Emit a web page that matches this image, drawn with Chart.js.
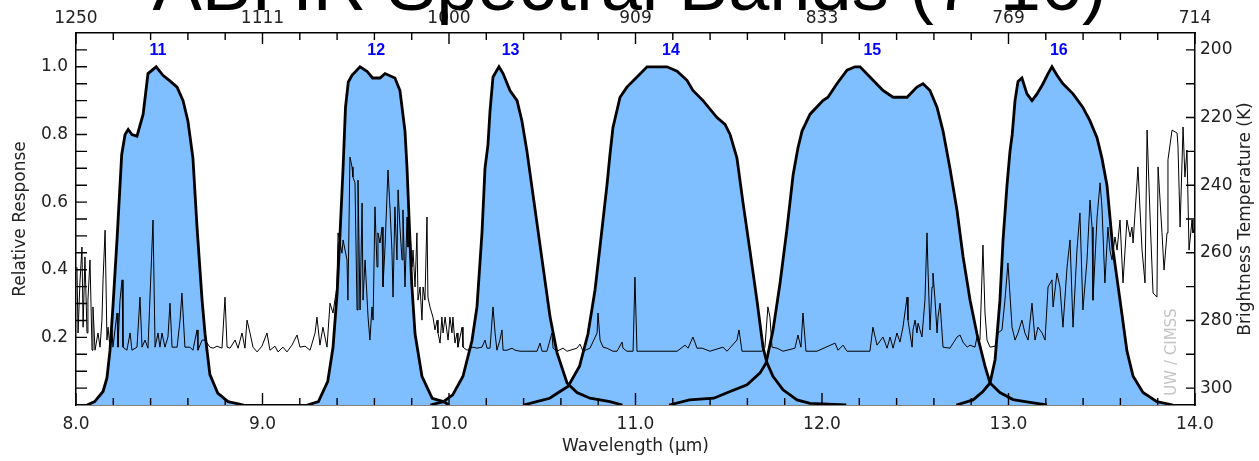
<!DOCTYPE html>
<html>
<head>
<meta charset="utf-8">
<title>ABI IR Spectral Bands (7-16)</title>
<script src="https://cdn.jsdelivr.net/npm/chart.js@4/dist/chart.umd.min.js"></script>
<style>
  html, body { margin: 0; padding: 0; background: #fff; }
  #wrap { width: 1259px; height: 461px; position: relative; }
</style>
</head>
<body>
<div id="wrap"><canvas id="chart"></canvas></div>
<script>
const chartTitle = 'ABI IR Spectral Bands (7-16)';
const bandNames = ['11', '12', '13', '14', '15', '16'];
const bandCenters = [8.44, 9.61, 10.33, 11.19, 12.27, 13.27];
const wavelengthTicks = [8, 9, 10, 11, 12, 13, 14];
const wavenumberTicks = ['1250', '1111', '1000', '909', '833', '769', '714'];
const responseTicks = [0.2, 0.4, 0.6, 0.8, 1.0];
const temperatureTicks = [200, 220, 240, 260, 280, 300];

// relative response curves, [wavelength um, response]
const band11 = [[8.06,0],[8.10,0.01],[8.145,0.04],[8.166,0.08],[8.182,0.16],[8.198,0.29],[8.22,0.49],[8.245,0.74],
  [8.263,0.80],[8.28,0.815],[8.30,0.80],[8.327,0.795],[8.36,0.86],[8.386,0.98],[8.43,1.0],[8.466,0.975],[8.50,0.96],
  [8.542,0.94],[8.574,0.90],[8.60,0.84],[8.627,0.73],[8.649,0.525],[8.676,0.31],[8.692,0.21],[8.718,0.09],
  [8.76,0.035],[8.815,0.01],[8.90,0]];
const band12 = [[9.24,0],[9.30,0.01],[9.35,0.07],[9.378,0.17],[9.40,0.33],[9.416,0.51],[9.432,0.70],[9.445,0.88],
  [9.46,0.955],[9.48,0.975],[9.523,1.0],[9.56,0.987],[9.59,0.967],[9.63,0.967],[9.657,0.98],[9.71,0.967],[9.737,0.93],
  [9.764,0.81],[9.775,0.70],[9.80,0.36],[9.818,0.21],[9.855,0.085],[9.91,0.02],[9.97,0.01],[10.0,0]];
const band13 = [[9.90,0],[9.97,0.01],[10.02,0.03],[10.075,0.085],[10.123,0.19],[10.15,0.29],[10.177,0.51],[10.193,0.70],
  [10.209,0.77],[10.22,0.87],[10.236,0.97],[10.257,0.99],[10.268,1.0],[10.29,0.98],[10.327,0.93],[10.365,0.90],
  [10.391,0.84],[10.418,0.75],[10.461,0.58],[10.504,0.41],[10.542,0.26],[10.579,0.155],[10.633,0.065],[10.686,0.037],
  [10.756,0.02],[10.863,0.01],[10.93,0]];
const band14 = [[10.40,0],[10.47,0.01],[10.54,0.02],[10.595,0.04],[10.638,0.055],[10.70,0.115],[10.745,0.21],[10.783,0.34],
  [10.81,0.47],[10.847,0.65],[10.863,0.74],[10.879,0.82],[10.917,0.91],[10.954,0.94],[11.008,0.97],[11.062,1.0],
  [11.169,1.0],[11.223,0.987],[11.276,0.96],[11.308,0.93],[11.362,0.90],[11.437,0.85],[11.48,0.83],[11.507,0.80],
  [11.544,0.73],[11.576,0.60],[11.614,0.455],[11.651,0.31],[11.684,0.17],[11.705,0.125],[11.737,0.085],[11.791,0.045],
  [11.866,0.015],[11.936,0.005],[12.13,0]];
const band15 = [[11.18,0],[11.29,0.015],[11.42,0.02],[11.507,0.04],[11.598,0.06],[11.668,0.095],[11.70,0.124],[11.737,0.22],
  [11.775,0.36],[11.812,0.52],[11.845,0.68],[11.871,0.76],[11.893,0.81],[11.936,0.86],[12.005,0.90],[12.032,0.91],
  [12.08,0.95],[12.134,0.99],[12.177,1.0],[12.204,1.0],[12.257,0.97],[12.327,0.93],[12.381,0.91],[12.456,0.91],
  [12.509,0.94],[12.542,0.95],[12.579,0.93],[12.617,0.88],[12.649,0.81],[12.686,0.70],[12.724,0.575],[12.756,0.44],
  [12.794,0.31],[12.831,0.21],[12.874,0.115],[12.901,0.065],[12.954,0.037],[13.024,0.016],[13.115,0.008],[13.206,0]];
const band16 = [[12.72,0],[12.81,0.015],[12.863,0.04],[12.901,0.065],[12.928,0.134],[12.954,0.31],[12.971,0.49],[12.992,0.65],
  [13.008,0.75],[13.02,0.80],[13.035,0.90],[13.051,0.957],[13.072,0.967],[13.099,0.92],[13.126,0.90],[13.153,0.92],
  [13.185,0.95],[13.212,0.98],[13.233,1.0],[13.26,0.975],[13.292,0.95],[13.346,0.92],[13.399,0.88],[13.437,0.84],
  [13.475,0.79],[13.501,0.73],[13.528,0.65],[13.56,0.46],[13.598,0.31],[13.635,0.16],[13.668,0.085],[13.721,0.037],
  [13.796,0.01],[13.882,0]];

// brightness temperature spectrum, [wavelength um, K]
const spectrum = [
  [8.005,264.2],[8.011,283.7],[8.021,268.9],[8.032,258.3],[8.038,282.0],[8.048,261.2],[8.059,283.7],[8.064,274.0],
  [8.075,262.1],[8.086,288.8],[8.091,276.0],[8.102,288.8],[8.118,283.7],[8.129,287.9],[8.139,279.9],[8.145,268.0],
  [8.156,253.3],[8.166,285.8],[8.172,282.0],[8.182,287.9],[8.193,282.8],[8.198,287.9],[8.220,277.8],[8.225,287.9],
  [8.236,274.0],[8.247,268.0],[8.252,287.9],[8.273,288.8],[8.290,283.7],[8.300,288.8],[8.327,287.9],[8.343,273.1],
  [8.354,287.9],[8.370,285.8],[8.386,288.2],[8.413,250.3],[8.424,287.9],[8.440,283.7],[8.450,287.9],[8.461,283.7],
  [8.477,287.9],[8.493,284.9],[8.504,274.9],[8.515,287.9],[8.542,287.9],[8.558,279.9],[8.568,271.9],[8.574,277.8],
  [8.584,287.9],[8.611,287.9],[8.627,288.8],[8.649,282.8],[8.654,288.8],[8.676,285.8],[8.692,285.8],[8.718,287.9],
  [8.735,288.2],[8.756,287.6],[8.783,288.2],[8.799,273.1],[8.810,287.9],[8.826,288.2],[8.853,285.8],[8.869,288.2],
  [8.890,283.7],[8.906,288.2],[8.917,279.9],[8.933,283.7],[8.949,287.9],[8.971,289.3],[8.997,287.6],[9.024,283.7],
  [9.040,288.8],[9.067,287.6],[9.083,289.3],[9.110,287.9],[9.131,289.3],[9.158,287.3],[9.185,284.3],[9.201,287.9],
  [9.228,287.6],[9.255,288.8],[9.282,283.7],[9.292,279.0],[9.308,287.3],[9.324,282.0],[9.346,287.9],[9.362,274.9],
  [9.378,277.8],[9.399,270.1],[9.405,254.1],[9.426,260.1],[9.432,256.2],[9.453,262.1],[9.458,274.0],[9.469,231.7],
  [9.480,234.6],[9.485,237.6],[9.496,239.3],[9.507,276.9],[9.512,238.5],[9.523,276.9],[9.534,245.3],[9.539,274.0],
  [9.550,262.1],[9.566,279.0],[9.576,285.8],[9.587,276.0],[9.593,279.9],[9.603,246.4],[9.614,264.2],[9.619,254.1],
  [9.630,257.1],[9.641,252.4],[9.646,270.1],[9.657,258.3],[9.673,235.5],[9.684,247.3],[9.694,259.2],[9.700,273.1],
  [9.710,246.4],[9.721,262.1],[9.727,241.4],[9.737,252.4],[9.748,262.1],[9.753,247.3],[9.764,270.1],[9.775,249.4],
  [9.780,258.3],[9.791,253.3],[9.802,264.2],[9.807,259.2],[9.818,270.1],[9.828,254.1],[9.834,274.0],[9.845,270.1],
  [9.855,279.9],[9.861,270.1],[9.871,274.0],[9.882,249.4],[9.887,273.1],[9.898,276.0],[9.914,279.0],[9.925,282.8],
  [9.936,279.9],[9.941,283.7],[9.952,286.7],[9.962,279.0],[9.968,283.7],[9.979,279.0],[9.995,285.8],[10.005,279.0],
  [10.016,283.7],[10.021,279.0],[10.032,286.7],[10.043,283.7],[10.048,287.9],[10.070,282.0],[10.075,287.9],[10.097,288.8],
  [10.113,288.2],[10.129,287.9],[10.150,288.2],[10.177,287.9],[10.193,285.8],[10.204,288.2],[10.220,288.2],[10.236,276.0],
  [10.247,283.7],[10.257,288.8],[10.273,285.8],[10.284,282.8],[10.290,288.8],[10.311,288.8],[10.338,288.2],[10.354,288.8],
  [10.381,289.1],[10.472,289.1],[10.488,286.7],[10.499,289.1],[10.525,289.1],[10.552,283.7],[10.558,288.2],[10.579,289.1],
  [10.611,288.2],[10.633,289.1],[10.686,288.2],[10.702,287.0],[10.719,289.1],[10.756,288.2],[10.794,283.7],[10.799,277.8],
  [10.810,285.8],[10.826,287.9],[10.847,288.2],[10.879,289.1],[10.901,289.1],[10.928,286.4],[10.933,288.2],[10.954,289.1],
  [10.987,289.1],[10.997,267.2],[11.008,289.1],[11.223,289.1],[11.266,287.3],[11.282,288.2],[11.308,284.9],[11.330,288.2],
  [11.357,288.2],[11.399,289.1],[11.469,287.9],[11.491,289.1],[11.544,285.8],[11.555,282.8],[11.571,289.1],[11.678,289.1],
  [11.694,287.9],[11.710,276.0],[11.721,279.0],[11.732,287.9],[11.759,288.2],[11.791,289.1],[11.855,288.2],[11.871,284.3],
  [11.887,287.9],[11.898,277.8],[11.914,289.1],[11.973,289.1],[12.070,286.7],[12.086,288.8],[12.113,287.3],[12.134,289.1],
  [12.257,289.1],[12.273,282.0],[12.295,287.3],[12.327,284.9],[12.349,288.2],[12.365,284.9],[12.381,288.2],[12.402,283.7],
  [12.418,286.4],[12.434,282.0],[12.456,273.1],[12.461,279.9],[12.483,287.9],[12.488,282.8],[12.499,279.9],[12.509,283.7],
  [12.515,280.8],[12.536,284.9],[12.552,274.0],[12.563,254.1],[12.568,264.2],[12.579,282.8],[12.590,270.1],[12.595,266.0],
  [12.606,274.0],[12.617,283.7],[12.622,279.0],[12.633,274.9],[12.649,287.9],[12.686,288.2],[12.724,284.9],[12.740,284.3],
  [12.756,286.4],[12.778,287.9],[12.794,287.3],[12.820,287.9],[12.831,284.9],[12.847,285.8],[12.863,257.7],[12.874,277.8],
  [12.885,285.8],[12.901,287.9],[12.928,287.6],[12.944,283.7],[12.965,282.8],[12.981,274.0],[12.997,263.0],[13.019,282.0],
  [13.035,285.8],[13.051,283.7],[13.072,279.9],[13.088,283.7],[13.105,285.8],[13.126,274.9],[13.142,285.8],[13.158,282.0],
  [13.180,283.7],[13.196,285.8],[13.212,270.1],[13.233,268.0],[13.239,276.0],[13.260,266.0],[13.276,270.1],[13.292,282.0],
  [13.314,264.2],[13.330,256.2],[13.346,282.0],[13.367,259.2],[13.383,248.2],[13.399,276.9],[13.421,262.1],[13.437,244.4],
  [13.448,252.4],[13.453,274.0],[13.475,249.4],[13.491,239.3],[13.501,246.4],[13.517,268.9],[13.533,252.4],[13.544,259.2],
  [13.555,262.1],[13.571,255.3],[13.582,259.2],[13.598,250.3],[13.614,268.9],[13.635,250.3],[13.652,255.3],[13.662,252.4],
  [13.668,257.1],[13.689,239.3],[13.694,234.6],[13.716,259.2],[13.732,268.9],[13.743,223.7],[13.759,249.4],[13.775,271.9],
  [13.796,273.1],[13.802,234.6],[13.823,254.1],[13.834,265.1],[13.850,254.1],[13.855,232.5],[13.877,223.7],[13.904,224.6],
  [13.909,228.7],[13.920,252.4],[13.936,222.8],[13.946,237.6],[13.957,229.6],[13.968,259.2],[13.984,250.3],[13.989,254.1],
  [14.000,252.4]];

const bands = [band11, band12, band13, band14, band15, band16];
const toPoints = arr => arr.map(p => ({ x: p[0], y: p[1] }));

const tickFont = { family: 'DejaVu Sans', size: 17 };
const inkColor = '#222';

const datasets = bands.map((b, i) => ({
  label: 'Band ' + bandNames[i],
  data: toPoints(b),
  yAxisID: 'y',
  borderColor: '#000',
  borderWidth: 2.8,
  backgroundColor: '#80bfff',
  fill: 'origin',
  pointRadius: 0,
  tension: 0,
  order: 0
}));
datasets.push({
  label: 'Brightness temperature',
  data: toPoints(spectrum),
  yAxisID: 'y2',
  borderColor: '#000',
  borderWidth: 1,
  fill: false,
  pointRadius: 0,
  tension: 0,
  order: 1
});

// inward tick marks, band numbers, free text
const decorations = {
  id: 'decorations',
  afterDatasetsDraw(chart) {
    const { ctx, chartArea: a, scales } = chart;
    const x = scales.x, y = scales.y, t = scales.y2;
    ctx.save();
    ctx.strokeStyle = '#000';
    ctx.lineWidth = 1.4;
    ctx.beginPath();
    for (let i = 0; i <= 30; i++) {
      const px = x.getPixelForValue(8 + i * 0.2);
      const major = i % 5 === 0;
      ctx.moveTo(px, a.bottom); ctx.lineTo(px, a.bottom - (major ? 12 : 7));
      ctx.moveTo(px, a.top); ctx.lineTo(px, a.top + (major ? 11 : 7));
    }
    for (let i = 1; i <= 21; i++) {
      const py = y.getPixelForValue(i * 0.05);
      ctx.moveTo(a.left, py); ctx.lineTo(a.left + 11, py);
    }
    for (let k = 200; k <= 300; k += 10) {
      const py = t.getPixelForValue(k);
      ctx.moveTo(a.right, py); ctx.lineTo(a.right - 9, py);
    }
    ctx.stroke();

    ctx.fillStyle = '#0000ff';
    ctx.font = 'bold 16px "Liberation Sans"';
    ctx.textAlign = 'center';
    ctx.textBaseline = 'middle';
    bandCenters.forEach((c, i) => {
      ctx.fillText(bandNames[i], x.getPixelForValue(c), y.getPixelForValue(1.047));
    });

    ctx.save();
    ctx.translate(a.right - 23, a.bottom - 53);
    ctx.rotate(-Math.PI / 2);
    ctx.fillStyle = '#c4c4c4';
    ctx.font = '15px "DejaVu Sans"';
    ctx.fillText('UW / CIMSS', 0, 0);
    ctx.restore();

    ctx.save();
    ctx.translate(1246, (a.top + a.bottom) / 2);
    ctx.rotate(-Math.PI / 2);
    ctx.fillStyle = inkColor;
    ctx.font = '17px "DejaVu Sans"';
    ctx.fillText('Brightness Temperature (K)', 0, 0);
    ctx.restore();
    ctx.restore();
  },
  afterDraw(chart) {
    const { ctx } = chart;
    ctx.save();
    ctx.fillStyle = '#000';
    ctx.font = '74px "Liberation Sans"';
    ctx.textAlign = 'center';
    ctx.textBaseline = 'alphabetic';
    ctx.fillText(chartTitle, chart.width / 2, 10);
    ctx.restore();
  }
};

const axisBase = {
  type: 'linear',
  grid: { drawOnChartArea: false, drawTicks: false },
  border: { color: '#000', width: 1.5 }
};

new Chart(document.getElementById('chart'), {
  type: 'line',
  data: { datasets },
  plugins: [decorations],
  options: {
    responsive: true,
    maintainAspectRatio: false,
    animation: false,
    layout: { padding: 0 },
    plugins: {
      legend: { display: false },
      title: { display: false },
      tooltip: { enabled: false },
      filler: { drawTime: 'beforeDatasetsDraw' }
    },
    scales: {
      x: {
        ...axisBase, position: 'bottom', min: 8, max: 14,
        afterBuildTicks: s => { s.ticks = wavelengthTicks.map(v => ({ value: v })); },
        afterFit: s => { s.height = 56; },
        ticks: { callback: v => Number(v).toFixed(1), padding: 9, maxRotation: 0, autoSkip: false, color: inkColor, font: tickFont },
        title: { display: true, text: 'Wavelength (μm)', color: inkColor, font: tickFont, padding: { top: 0, bottom: 4 } }
      },
      xTop: {
        ...axisBase, position: 'top', min: 8, max: 14,
        afterBuildTicks: s => { s.ticks = wavelengthTicks.map(v => ({ value: v })); },
        afterFit: s => { s.height = 33; },
        ticks: { callback: (v, i) => wavenumberTicks[i], padding: 4, maxRotation: 0, autoSkip: false, color: inkColor, font: tickFont }
      },
      y: {
        ...axisBase, position: 'left', min: 0, max: 1.1,
        afterBuildTicks: s => { s.ticks = responseTicks.map(v => ({ value: v })); },
        afterFit: s => { s.width = 76; },
        ticks: { callback: v => Number(v).toFixed(1), padding: 8, autoSkip: false, color: inkColor, font: tickFont },
        title: { display: true, text: 'Relative Response', color: inkColor, font: tickFont, padding: { top: 10, bottom: 0 } }
      },
      y2: {
        ...axisBase, position: 'right', min: 195, max: 305, reverse: true,
        afterBuildTicks: s => { s.ticks = temperatureTicks.map(v => ({ value: v })); },
        afterFit: s => { s.width = 64; },
        ticks: { padding: 5, autoSkip: false, color: inkColor, font: tickFont }
      }
    }
  }
});
</script>
</body>
</html>
